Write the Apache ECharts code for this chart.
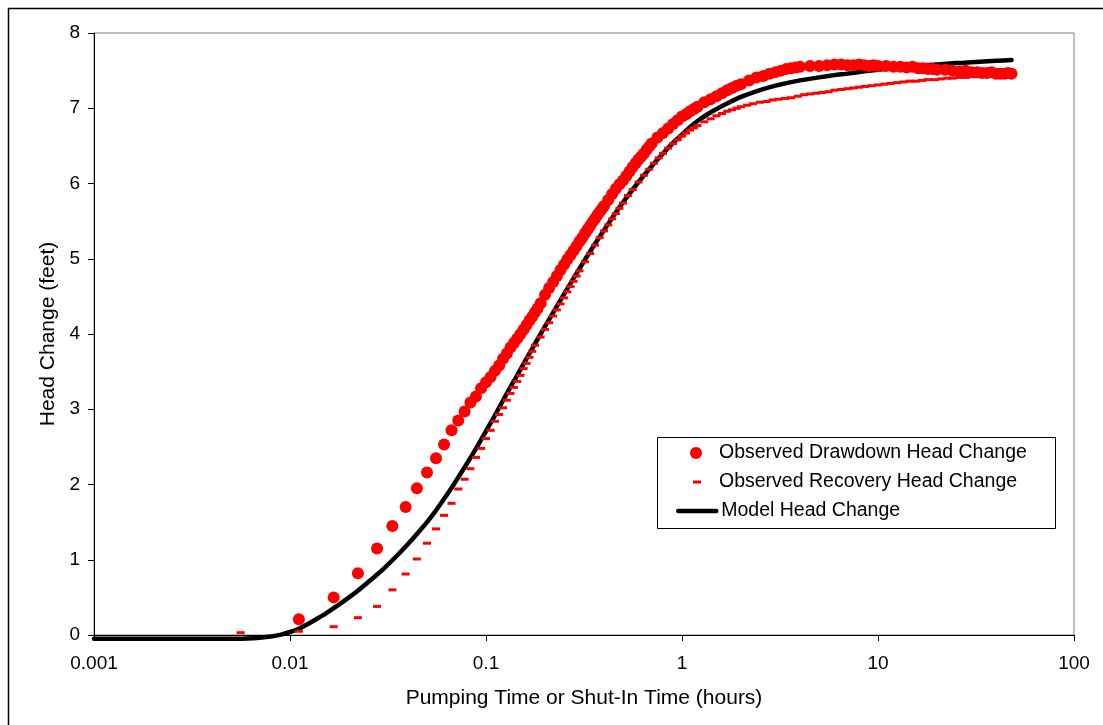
<!DOCTYPE html>
<html>
<head>
<meta charset="utf-8">
<script src="https://cdn.jsdelivr.net/npm/echarts@6/dist/echarts.min.js"></script>
<style>
  html, body { margin: 0; padding: 0; background: #fff; overflow: hidden; }
  #chart { width: 1103px; height: 725px; }
</style>
</head>
<body>
<div id="chart"></div>
<script>
// Pumping test: observed drawdown, observed recovery and model head change (feet) vs time (hours)

const drawdownTime = [
  0.0111, 0.0167, 0.0222, 0.0278, 0.0333, 0.0389, 0.0444, 0.0500, 0.0556, 0.0611,
  0.0667, 0.0722, 0.0778, 0.0833, 0.0889, 0.0944, 0.1000, 0.1056, 0.1111, 0.1167,
  0.1222, 0.1278, 0.1333, 0.1389, 0.1444, 0.1500, 0.1556, 0.1611, 0.1667, 0.1722,
  0.1778, 0.1833,
  0.19, 0.20, 0.21, 0.22, 0.23, 0.24, 0.25, 0.26, 0.27, 0.28, 0.29, 0.30, 0.31, 0.32,
  0.33, 0.34, 0.35, 0.36, 0.37, 0.38, 0.39, 0.40,
  0.42, 0.44, 0.46, 0.48, 0.50, 0.52, 0.54, 0.56, 0.58, 0.60, 0.62, 0.64, 0.66, 0.68, 0.70,
  0.75, 0.80, 0.85, 0.90, 0.95, 1.00, 1.05, 1.10, 1.15, 1.20,
  1.3, 1.4, 1.5, 1.6, 1.7, 1.8, 1.9, 2.0,
  2.2, 2.4, 2.6, 2.8, 3.0, 3.2, 3.4, 3.6, 3.8, 4.0,
  4.5, 5.0, 5.5, 6.0, 6.5, 7.0, 7.5, 8.0, 8.5, 9.0, 9.5, 10,
  11, 12, 13, 14, 15, 16, 17, 18, 19, 20,
  22, 24, 26, 28, 30, 32, 34, 36, 38, 40, 42, 44, 46, 48
];
const drawdownHead = [
  0.21, 0.50, 0.82, 1.15, 1.45, 1.70, 1.95, 2.16, 2.35, 2.53,
  2.72, 2.85, 2.97, 3.09, 3.17, 3.28, 3.36, 3.43, 3.51, 3.58,
  3.67, 3.74, 3.82, 3.88, 3.94, 4.00, 4.06, 4.12, 4.18, 4.23,
  4.29, 4.34,
  4.41, 4.52, 4.61, 4.69, 4.77, 4.85, 4.92, 4.99, 5.05, 5.11, 5.17, 5.23, 5.28, 5.34,
  5.39, 5.44, 5.49, 5.53, 5.58, 5.62, 5.66, 5.70,
  5.78, 5.86, 5.93, 5.99, 6.04, 6.10, 6.16, 6.22, 6.27, 6.32, 6.36, 6.40, 6.45, 6.49, 6.53,
  6.61, 6.67, 6.73, 6.79, 6.84, 6.89, 6.92, 6.96, 6.99, 7.02,
  7.08, 7.12, 7.16, 7.20, 7.24, 7.27, 7.30, 7.32,
  7.37, 7.41, 7.43, 7.46, 7.48, 7.50, 7.52, 7.53, 7.54, 7.55,
  7.56, 7.56, 7.57, 7.58, 7.58, 7.57, 7.57, 7.58, 7.57, 7.56, 7.57, 7.56,
  7.56, 7.55, 7.55, 7.54, 7.55, 7.53, 7.53, 7.52, 7.52, 7.51,
  7.51, 7.50, 7.49, 7.50, 7.48, 7.48, 7.47, 7.47, 7.48, 7.46, 7.46, 7.46, 7.47, 7.46
];

const recoveryTime = [
  0.0056, 0.0111, 0.0167, 0.0222, 0.0278, 0.0333, 0.0389, 0.0444, 0.0500, 0.0556,
  0.0611, 0.0667, 0.0722, 0.0778, 0.0833, 0.0889, 0.0944, 0.1000, 0.1056, 0.1111,
  0.1167, 0.1222, 0.1278, 0.1333, 0.1389, 0.1444, 0.1500, 0.1556, 0.1611, 0.1667,
  0.1722, 0.1778,
  0.19, 0.20, 0.21, 0.22, 0.23, 0.24, 0.25, 0.26, 0.27, 0.28, 0.29, 0.30,
  0.32, 0.34, 0.36, 0.38, 0.40, 0.42, 0.44, 0.46, 0.48, 0.50,
  0.53, 0.56, 0.60, 0.64, 0.68, 0.72, 0.76, 0.80, 0.85, 0.90, 0.95, 1.00,
  1.05, 1.10, 1.15, 1.20,
  1.3, 1.4, 1.5, 1.6, 1.7, 1.8, 1.9, 2.0,
  2.15, 2.3, 2.5, 2.7, 2.9, 3.1, 3.35, 3.6, 3.9, 4.2, 4.5, 4.85, 5.2, 5.6, 6.0,
  6.5, 7.0, 7.5, 8.0, 8.6, 9.3, 10, 10.8, 11.6, 12.5, 13.5, 14.5, 15.6, 16.8, 18,
  19.5, 21, 22.5, 24, 26, 28, 30, 32.5, 35, 37.5, 40, 43, 46, 48
];
const recoveryHead = [
  0.03, 0.05, 0.11, 0.23, 0.38, 0.60, 0.81, 1.01, 1.22, 1.41,
  1.59, 1.75, 1.94, 2.07, 2.21, 2.36, 2.48, 2.61, 2.72, 2.84,
  2.93, 3.02, 3.12, 3.21, 3.29, 3.37, 3.45, 3.54, 3.61, 3.69,
  3.77, 3.85,
  3.96, 4.06, 4.15, 4.24, 4.32, 4.40, 4.48, 4.56, 4.63, 4.70, 4.77, 4.84,
  4.96, 5.07, 5.18, 5.28, 5.37, 5.45, 5.53, 5.60, 5.67, 5.74,
  5.84, 5.92, 6.02, 6.11, 6.19, 6.27, 6.34, 6.40, 6.47, 6.53, 6.58, 6.63,
  6.67, 6.71, 6.74, 6.77,
  6.82, 6.86, 6.90, 6.93, 6.96, 6.98, 7.00, 7.02,
  7.04, 7.06, 7.08, 7.09, 7.11, 7.12, 7.13, 7.14, 7.16, 7.18, 7.19, 7.20, 7.21, 7.22, 7.24,
  7.25, 7.26, 7.27, 7.28, 7.29, 7.30, 7.31, 7.32, 7.33, 7.34, 7.35, 7.36, 7.36, 7.37, 7.38,
  7.38, 7.39, 7.40, 7.40, 7.41, 7.41, 7.42, 7.42, 7.43, 7.43, 7.44, 7.44, 7.45, 7.45
];

const modelTime = [
  0.001, 0.002, 0.003, 0.004, 0.005, 0.006, 0.007, 0.008, 0.009, 0.01,
  0.011, 0.012, 0.013, 0.014, 0.015, 0.017, 0.02, 0.022, 0.025, 0.028, 0.03,
  0.035, 0.04, 0.045, 0.05, 0.055, 0.06, 0.065, 0.07, 0.08, 0.09, 0.1,
  0.11, 0.12, 0.135, 0.15, 0.175, 0.2, 0.25, 0.3, 0.35, 0.4, 0.45, 0.5,
  0.6, 0.7, 0.8, 0.9, 1.0, 1.1, 1.2, 1.35, 1.5, 1.75, 2.0, 2.5, 3, 3.5, 4,
  5, 6, 7, 8.5, 10, 12.5, 15, 20, 25, 30, 40, 48
];
const modelHead = [
  -0.05, -0.05, -0.05, -0.05, -0.05, -0.045, -0.035, -0.02, 0.005, 0.04,
  0.08, 0.13, 0.18, 0.23, 0.275, 0.37, 0.50, 0.58, 0.70, 0.81, 0.88,
  1.05, 1.21, 1.36, 1.50, 1.64, 1.78, 1.91, 2.04, 2.28, 2.50, 2.71,
  2.90, 3.08, 3.32, 3.53, 3.84, 4.10, 4.53, 4.87, 5.15, 5.38, 5.58, 5.75,
  6.02, 6.23, 6.40, 6.54, 6.65, 6.75, 6.83, 6.92, 6.99, 7.08, 7.15, 7.24, 7.30, 7.34, 7.37,
  7.41, 7.44, 7.46, 7.49, 7.51, 7.54, 7.56, 7.58, 7.60, 7.61, 7.63, 7.64
];

const xTicks = [0.001, 0.01, 0.1, 1, 10, 100];
const yTicks = [0, 1, 2, 3, 4, 5, 6, 7, 8];

const seriesNames = [
  'Observed Drawdown Head Change',
  'Observed Recovery Head Change',
  'Model Head Change'
];

const pairs = (xs, ys) => xs.map((x, i) => [x, ys[i]]);

const FONT = "'Liberation Sans', Arial, sans-serif";
const RED = '#ff0000';

const chart = echarts.init(document.getElementById('chart'), null, { renderer: 'canvas' });

const legendText = { color: '#000', fontFamily: FONT, fontSize: 19.5, lineHeight: 22 };

chart.setOption({
  animation: false,
  backgroundColor: '#fff',
  grid: {
    left: 94, top: 33, right: 29, bottom: 90,
    show: true, borderColor: '#808080', borderWidth: 1, backgroundColor: '#fff'
  },
  xAxis: {
    type: 'log',
    logBase: 10,
    min: xTicks[0],
    max: xTicks[xTicks.length - 1],
    name: 'Pumping Time or Shut-In Time (hours)',
    nameLocation: 'middle',
    nameGap: 53,
    nameTextStyle: { color: '#000', fontFamily: FONT, fontSize: 21 },
    axisLine: { show: true, onZero: false, lineStyle: { color: '#000', width: 1 } },
    axisTick: { show: true, inside: false, length: 6, lineStyle: { color: '#000' } },
    minorTick: { show: false },
    splitLine: { show: false },
    axisLabel: {
      color: '#000', fontFamily: FONT, fontSize: 19, margin: 19,
      formatter: v => {
        const hit = xTicks.find(t => Math.abs(Math.log10(t) - Math.log10(v)) < 1e-6);
        return hit !== undefined ? String(hit) : '';
      }
    }
  },
  yAxis: {
    type: 'value',
    min: yTicks[0],
    max: yTicks[yTicks.length - 1],
    interval: 1,
    name: 'Head Change (feet)',
    nameLocation: 'middle',
    nameGap: 35,
    nameTextStyle: { color: '#000', fontFamily: FONT, fontSize: 21 },
    axisLine: { show: true, onZero: false, lineStyle: { color: '#000', width: 1 } },
    axisTick: { show: true, inside: false, length: 6, lineStyle: { color: '#000' } },
    splitLine: { show: false },
    axisLabel: { color: '#000', fontFamily: FONT, fontSize: 19, margin: 14 }
  },
  legend: [
    {
      data: [{ name: seriesNames[0], icon: 'circle' }],
      left: 690, top: 442, padding: 0,
      itemWidth: 12, itemHeight: 12,
      selectedMode: false,
      textStyle: Object.assign({}, legendText, { padding: [0, 0, 0, 12] })
    },
    {
      data: [{ name: seriesNames[1], icon: 'rect' }],
      left: 693, top: 471, padding: 0,
      itemWidth: 8, itemHeight: 3,
      selectedMode: false,
      textStyle: Object.assign({}, legendText, { padding: [0, 0, 0, 13] })
    },
    {
      data: [{ name: seriesNames[2] }],
      left: 676, top: 500, padding: 0,
      itemWidth: 38, itemHeight: 4,
      selectedMode: false,
      lineStyle: { width: 4.5, color: '#000' },
      textStyle: Object.assign({}, legendText)
    }
  ],
  graphic: [
    {
      type: 'rect', silent: true, z: -10,
      shape: { x: 8.5, y: 8.5, width: 1200, height: 800 },
      style: { fill: null, stroke: '#000', lineWidth: 1.5 }
    },
    {
      type: 'rect', silent: true, z: 50,
      shape: { x: 657.5, y: 437.5, width: 398, height: 91 },
      style: { fill: null, stroke: '#000', lineWidth: 1 }
    }
  ],
  series: [
    {
      name: seriesNames[2],
      type: 'line',
      data: pairs(modelTime, modelHead),
      symbol: 'none',
      smooth: 0.2,
      color: '#000',
      lineStyle: { color: '#000', width: 4.5, cap: 'round', join: 'round' },
      z: 2,
      clip: false
    },
    {
      name: seriesNames[0],
      type: 'scatter',
      data: pairs(drawdownTime, drawdownHead),
      symbol: 'circle',
      symbolSize: 12,
      itemStyle: { color: RED, opacity: 1 },
      z: 3
    },
    {
      name: seriesNames[1],
      type: 'scatter',
      data: pairs(recoveryTime, recoveryHead),
      symbol: 'rect',
      symbolSize: [8, 3],
      itemStyle: { color: RED, opacity: 1 },
      z: 4
    }
  ]
});
</script>
</body>
</html>
